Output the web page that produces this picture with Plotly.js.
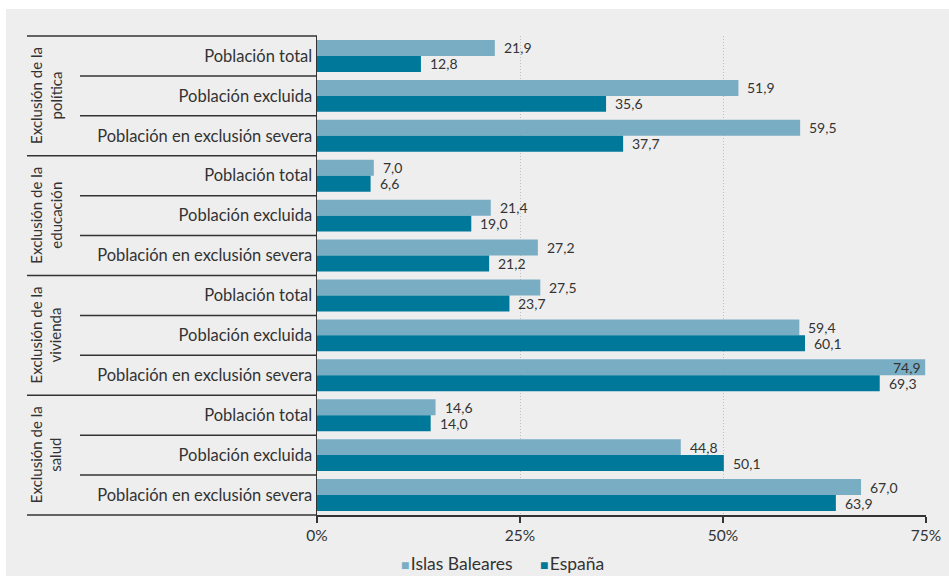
<!DOCTYPE html>
<html><head><meta charset="utf-8">
<script src="https://cdn.plot.ly/plotly-3.0.1.min.js"></script>
<style>html,body{margin:0;padding:0;background:#fff;} #chart{position:absolute;left:6px;top:9px;width:943px;height:567px;}</style>
</head><body><div id="chart"></div>
<script>
const groups = ["Exclusión de la<br>política", "Exclusión de la<br>educación", "Exclusión de la<br>vivienda", "Exclusión de la<br>salud"];
const subcategories = ["Población total", "Población excluida", "Población en exclusión severa"];
const seriesNames = ["Islas Baleares", "España"];
const baleares = [21.9, 51.9, 59.5, 7.0, 21.4, 27.2, 27.5, 59.4, 74.9, 14.6, 44.8, 67.0];
const espana = [12.8, 35.6, 37.7, 6.6, 19.0, 21.2, 23.7, 60.1, 69.3, 14.0, 50.1, 63.9];
const xTicks = [0, 25, 50, 75];
const xTickText = ["0%", "25%", "50%", "75%"];

const FONT = "Lato, 'Open Sans', sans-serif";
const TXT = "#333333";
const colors = ["#79adc4", "#00789a"];

const yIdx = [], yText = [];
groups.forEach((g, gi) => subcategories.forEach((s, si) => { yIdx.push(gi * subcategories.length + si); yText.push(s); }));
const nCat = yIdx.length;

const traces = [baleares, espana].map((vals, k) => ({
  type: "bar", orientation: "h", name: seriesNames[k],
  x: vals, y: yIdx,
  marker: {color: colors[k], line: {width: 0}},
  hoverinfo: "x+name", showlegend: false
}));

const fmt = v => v.toFixed(1).replace(".", ",");
const annotations = [];
[baleares, espana].forEach((vals, k) => {
  vals.forEach((v, i) => {
    const tooLong = v > 72;
    annotations.push({
      x: v, y: yIdx[i], xref: "x", yref: "y",
      text: fmt(v), showarrow: false,
      xanchor: tooLong ? "right" : "left",
      xshift: tooLong ? -2 : 7,
      yshift: k === 0 ? 8 : -8,
      font: {family: FONT, size: 14, color: TXT}
    });
  });
});

// layout helpers (pixel -> paper)
const plotLeft = 317, plotW = 609, plotTop = 36, plotH = 479;
const px = p => (p - plotLeft) / plotW;
const py = p => 1 - (p - plotTop) / plotH;

const shapes = [];
for (let i = 0; i <= nCat; i++) {
  const yp = 1 - i / nCat;
  const isGroup = i % subcategories.length === 0;
  shapes.push({type: "line", xref: "paper", yref: "paper",
    x0: isGroup ? px(27) : px(80), x1: 0, y0: yp, y1: yp,
    line: {color: "#333", width: 1.5}});
}
groups.forEach((g, gi) => {
  const yc = 1 - (gi * 3 + 1.5) / nCat;
  annotations.push({xref: "paper", yref: "paper", x: px(46), y: yc,
    text: g, showarrow: false, textangle: -90,
    xanchor: "center", yanchor: "middle", align: "center",
    font: {family: FONT, size: 15, color: TXT}});
});

// legend (swatch + name)
const legendX = [399, 538];
seriesNames.forEach((n, k) => {
  annotations.push({xref: "paper", yref: "paper", x: px(legendX[k]), y: py(563),
    xanchor: "left", yanchor: "middle", showarrow: false,
    text: `<span style="color:${colors[k]};font-size:14px">■</span><span style="font-size:5px"> </span>${n}`,
    font: {family: FONT, size: 17.5, color: TXT}});
});

const layout = {
  width: 943, height: 567,
  margin: {l: 311, r: 23, t: 27, b: 61},
  paper_bgcolor: "#eeeeee", plot_bgcolor: "#eeeeee",
  barmode: "group", bargap: 0.2, bargroupgap: 0,
  font: {family: FONT, color: TXT},
  xaxis: {range: [0, 75], tickmode: "array", tickvals: xTicks, ticktext: xTickText,
    showgrid: true, gridcolor: "#bdbdbd", griddash: "1px,2px", gridwidth: 1,
    zeroline: false, showline: true, linecolor: "#333", linewidth: 1.5,
    ticks: "outside", ticklen: 6, tickcolor: "#333", tickwidth: 1.5,
    tickfont: {family: FONT, size: 15.5, color: TXT}, fixedrange: true},
  yaxis: {range: [nCat - 0.5, -0.5], tickmode: "array", tickvals: yIdx, ticktext: yText,
    showgrid: false, zeroline: false, showline: true, linecolor: "#333", linewidth: 1.5,
    ticks: "", tickfont: {family: FONT, size: 16.5, color: TXT}, fixedrange: true},
  showlegend: false,
  shapes: shapes,
  annotations: annotations
};

Plotly.newPlot("chart", traces, layout, {displayModeBar: false, staticPlot: true});
</script>
</body></html>
